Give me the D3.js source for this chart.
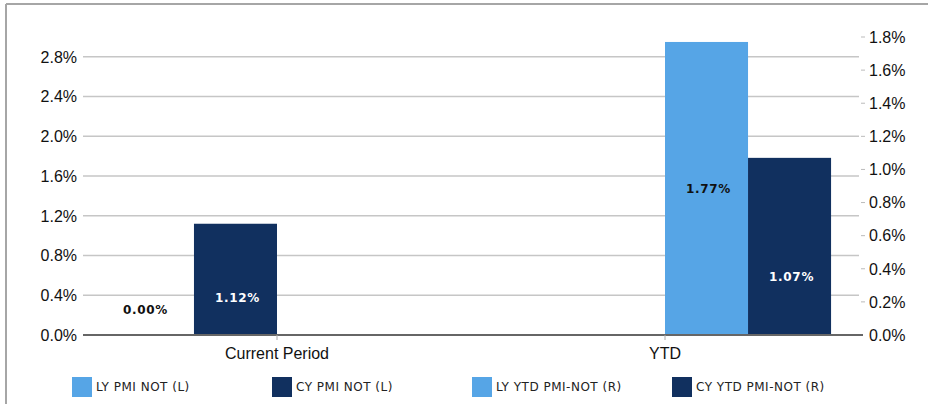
<!DOCTYPE html>
<html>
<head>
<meta charset="utf-8">
<script src="https://cdn.jsdelivr.net/npm/d3@7"></script>
<style>
  html, body { margin: 0; padding: 0; background: #fff; }
  svg { display: block; }
</style>
</head>
<body>
<svg id="chart" width="928" height="404"></svg>
<script>
// ---- Data ----
const categories = ["Current Period", "YTD"];
const seriesNames = ["LY PMI NOT (L)", "CY PMI NOT (L)", "LY YTD PMI-NOT (R)", "CY YTD PMI-NOT (R)"];
const seriesAxis = ["L", "L", "R", "R"];
const lyPmiNot = [0.00, null];
const cyPmiNot = [1.12, null];
const lyYtdPmiNot = [null, 1.77];
const cyYtdPmiNot = [null, 1.07];
const leftTicks = [0.0, 0.4, 0.8, 1.2, 1.6, 2.0, 2.4, 2.8];
const rightTicks = [0.0, 0.2, 0.4, 0.6, 0.8, 1.0, 1.2, 1.4, 1.6, 1.8];
const seriesValues = [lyPmiNot, cyPmiNot, lyYtdPmiNot, cyYtdPmiNot];

// ---- Styles ----
const colors = ["#56A5E6", "#11305F", "#56A5E6", "#11305F"];
const labelColors = ["#111", "#fff", "#111", "#fff"];

const svg = d3.select("#chart");
const W = 928, H = 404;
const m = { left: 83, right: 928 - 859, top: 37, bottom: 404 - 335 };
const plotW = W - m.left - m.right;
const plotH = H - m.top - m.bottom;

// frame
svg.append("line").attr("x1", 6).attr("x2", W).attr("y1", 4).attr("y2", 4)
  .attr("stroke", "#a6a6a6").attr("stroke-width", 2);
svg.append("line").attr("x1", 6).attr("x2", 6).attr("y1", 4).attr("y2", H)
  .attr("stroke", "#a6a6a6").attr("stroke-width", 2);

const g = svg.append("g").attr("transform", `translate(${m.left},${m.top})`);

const x0 = d3.scaleBand().domain(categories).range([0, plotW]).paddingInner(0.144).paddingOuter(0.072);
const x1 = d3.scaleBand().domain(d3.range(seriesNames.length)).range([0, x0.bandwidth()]);
const yL = d3.scaleLinear().domain([0, 3.0]).range([plotH, 0]);
const yR = d3.scaleLinear().domain([0, 1.8]).range([plotH, 0]);

// gridlines (left axis)
g.append("g").selectAll("line").data(leftTicks.filter(t => t > 0)).join("line")
  .attr("x1", 0).attr("x2", plotW)
  .attr("y1", d => yL(d)).attr("y2", d => yL(d))
  .attr("stroke", "#c6c6c6").attr("stroke-width", 1.5);

// left axis labels
g.append("g").selectAll("text").data(leftTicks).join("text")
  .attr("x", -6).attr("y", d => yL(d)).attr("dy", "0.36em")
  .attr("text-anchor", "end")
  .attr("font-family", "Liberation Sans, Arial, sans-serif").attr("font-size", 16)
  .attr("fill", "#111").text(d => d.toFixed(1) + "%");

// right axis ticks + labels
const rg = g.append("g").attr("transform", `translate(${plotW},0)`);
rg.selectAll("line").data(rightTicks.filter(t => t > 0)).join("line")
  .attr("x1", 2).attr("x2", 6)
  .attr("y1", d => yR(d)).attr("y2", d => yR(d))
  .attr("stroke", "#bbb").attr("stroke-width", 1);
rg.selectAll("text").data(rightTicks).join("text")
  .attr("x", 10).attr("y", d => yR(d)).attr("dy", "0.36em")
  .attr("text-anchor", "start")
  .attr("font-family", "Liberation Sans, Arial, sans-serif").attr("font-size", 16)
  .attr("fill", "#111").text(d => d.toFixed(1) + "%");

// bars
const barData = [];
categories.forEach((c, ci) => {
  seriesValues.forEach((vals, si) => {
    const v = vals[ci];
    if (v === null || v === undefined) return;
    const y = seriesAxis[si] === "L" ? yL : yR;
    barData.push({ c, si, v, y });
  });
});

g.append("g").selectAll("rect").data(barData).join("rect")
  .attr("x", d => x0(d.c) + x1(d.si))
  .attr("width", x1.bandwidth())
  .attr("y", d => d.y(d.v))
  .attr("height", d => plotH - d.y(d.v))
  .attr("fill", d => colors[d.si]);

// data labels: placed at a fraction of the bar (or fixed offset for short bars)
function labelY(d) {
  const top = d.y(d.v), h = plotH - top;
  if (h < 60) return plotH - 25;
  if (h < 200) return plotH - Math.max(31, h * 0.33);
  return top + h / 2;
}
g.append("g").selectAll("text").data(barData).join("text")
  .attr("x", d => x0(d.c) + x1(d.si) + x1.bandwidth() / 2 + (d.v === 0 ? -7 : 2))
  .attr("y", d => labelY(d)).attr("dy", "0.35em")
  .attr("text-anchor", "middle")
  .attr("font-family", "DejaVu Sans, Verdana, sans-serif").attr("font-weight", "bold")
  .attr("font-size", 12).attr("letter-spacing", 0.7)
  .attr("fill", d => labelColors[d.si])
  .text(d => d.v.toFixed(2) + "%");

// baseline
g.append("line").attr("x1", 0).attr("x2", plotW + 4).attr("y1", plotH).attr("y2", plotH)
  .attr("stroke", "#666").attr("stroke-width", 2);

// category ticks + labels
const cg = g.append("g");
cg.selectAll("line").data(categories).join("line")
  .attr("x1", d => x0(d) + x0.bandwidth() / 2).attr("x2", d => x0(d) + x0.bandwidth() / 2)
  .attr("y1", plotH).attr("y2", plotH + 5)
  .attr("stroke", "#aaa").attr("stroke-width", 1);
cg.selectAll("text").data(categories).join("text")
  .attr("x", d => x0(d) + x0.bandwidth() / 2).attr("y", plotH + 24)
  .attr("text-anchor", "middle")
  .attr("font-family", "Liberation Sans, Arial, sans-serif").attr("font-size", 16)
  .attr("fill", "#111").text(d => d);

// legend
const lg = svg.append("g").attr("transform", "translate(72,377)");
const items = lg.selectAll("g").data(seriesNames).join("g")
  .attr("transform", (d, i) => `translate(${i * 200},0)`);
items.append("rect").attr("width", 20).attr("height", 20).attr("fill", (d, i) => colors[i]);
items.append("text").attr("x", 24).attr("y", 10).attr("dy", "0.36em")
  .attr("font-family", "DejaVu Sans, Verdana, sans-serif").attr("font-size", 12)
  .attr("letter-spacing", 0.5)
  .attr("fill", "#222").text(d => d);
</script>
</body>
</html>
